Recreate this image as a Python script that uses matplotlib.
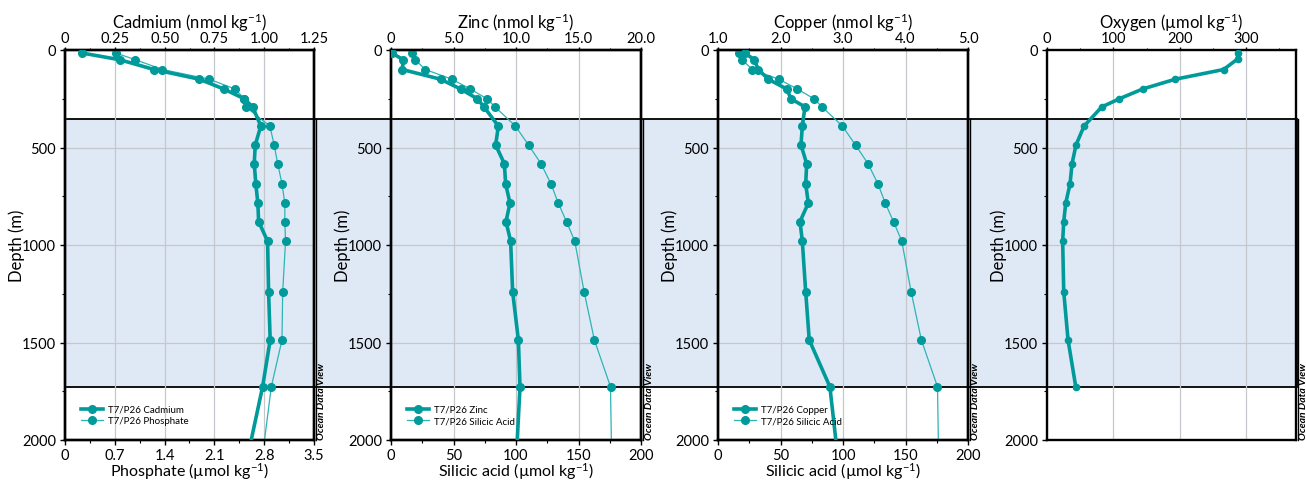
import matplotlib
matplotlib.use('Agg')
import matplotlib.pyplot as plt
from matplotlib.patches import Rectangle
from matplotlib.lines import Line2D
from matplotlib.ticker import MultipleLocator

plt.rcParams['font.family'] = ['Lato', 'DejaVu Sans']
plt.rcParams['mathtext.default'] = 'regular'

# station T7/P26 profiles (depth in m)
depth = [15, 50, 100, 150, 200, 250, 292, 390, 487, 583, 687, 785, 880, 980, 1240, 1487, 1727, 2500]
cadmium = [0.083, 0.275, 0.447, 0.675, 0.797, 0.90, 0.942, 0.983, 0.955, 0.95, 0.958, 0.968,
           0.972, 1.017, 1.022, 1.03, 0.992, 0.83]
phosphate = [0.71, 0.99, 1.37, 2.03, 2.39, 2.52, 2.54, 2.88, 2.94, 2.99, 3.05, 3.09,
             3.09, 3.10, 3.06, 3.05, 2.90, 2.63]
zinc = [0.05, 0.99, 0.9, 3.97, 5.57, 6.9, 7.44, 8.59, 8.37, 9.07, 9.17, 9.52,
        9.2, 9.57, 9.73, 10.19, 10.32, 9.7]
silicic = [16.5, 19.3, 27.5, 48.7, 63.5, 76.7, 83.3, 99.5, 110, 120, 128, 133.8,
           140.4, 147, 154.5, 162.7, 175.6, 177.5]
copper = [1.43, 1.58, 1.645, 1.805, 2.10, 2.168, 2.392, 2.349, 2.328, 2.419, 2.403, 2.445,
          2.312, 2.349, 2.403, 2.46, 2.79, 3.06]
oxygen_depth = [15, 46, 100, 150, 200, 250, 292, 390, 487, 583, 687, 785, 880, 980, 1240, 1487, 1727]
oxygen = [287, 287, 266, 193, 144, 109, 82.5, 55.8, 43.7, 37.7, 34.7, 28.2,
          25.2, 23.6, 25.2, 31.7, 43.3]

depth_ticks = [0, 500, 1000, 1500, 2000]
band_depths = (355, 1728)

cd_ticks = [0, 0.25, 0.5, 0.75, 1.0, 1.25]
cd_labels = ['0', '0.25', '0.50', '0.75', '1.00', '1.25']
po4_ticks = [0, 0.7, 1.4, 2.1, 2.8, 3.5]
po4_labels = ['0', '0.7', '1.4', '2.1', '2.8', '3.5']
zn_ticks = [0, 5, 10, 15, 20]
zn_labels = ['0', '5.0', '10.0', '15.0', '20.0']
si_ticks = [0, 50, 100, 150, 200]
si_labels = ['0', '50', '100', '150', '200']
cu_ticks = [1, 2, 3, 4, 5]
cu_labels = ['1.0', '2.0', '3.0', '4.0', '5.0']
o2_ticks = [0, 100, 200, 300]
o2_labels = ['0', '100', '200', '300']

TEAL = '#009a9a'
THIN = '#2db4b4'
BAND = '#dfe9f5'
GRID = '#c4c8cc'

W, H = 1306, 481
fig = plt.figure(figsize=(W / 100, H / 100), dpi=100)
AX_TOP, AX_BOT = 51, 441
bottom = 1 - AX_BOT / H
height = (AX_BOT - AX_TOP) / H

panels = [
    dict(left=65, right=314, metal=cadmium, nut=phosphate,
         top=('Cadmium (nmol kg$^{-1}$)', (0, 1.25), cd_ticks, cd_labels, 0.125),
         bot=('Phosphate (µmol kg$^{-1}$)', (0, 3.5), po4_ticks, po4_labels, 0.35),
         legend=['T7/P26 Cadmium', 'T7/P26 Phosphate']),
    dict(left=391, right=641, metal=zinc, nut=silicic,
         top=('Zinc (nmol kg$^{-1}$)', (0, 20), zn_ticks, zn_labels, 2.5),
         bot=('Silicic acid (µmol kg$^{-1}$)', (0, 200), si_ticks, si_labels, 25),
         legend=['T7/P26 Zinc', 'T7/P26 Silicic Acid']),
    dict(left=718, right=968, metal=copper, nut=silicic,
         top=('Copper (nmol kg$^{-1}$)', (1, 5), cu_ticks, cu_labels, 0.5),
         bot=('Silicic acid (µmol kg$^{-1}$)', (0, 200), si_ticks, si_labels, 25),
         legend=['T7/P26 Copper', 'T7/P26 Silicic Acid']),
    dict(left=1047, right=1296, metal=None, nut=None,
         top=('Oxygen (µmol kg$^{-1}$)', (0, 375), o2_ticks, o2_labels, 50),
         bot=None, legend=None),
]

# shaded band spanning all panels, kept behind the (transparent) axes
y_hi = bottom + (1 - band_depths[0] / 2000) * height
y_lo = bottom + (1 - band_depths[1] / 2000) * height
fig.patches.append(Rectangle((65 / W, y_lo), (1297 - 65) / W, y_hi - y_lo,
                             transform=fig.transFigure, facecolor=BAND,
                             edgecolor='black', linewidth=1.3, zorder=-10))


def style_axis(ax):
    ax.tick_params(which='major', length=3.5, width=1, labelsize=10.5, pad=3)
    ax.tick_params(which='minor', length=2, width=0.8)


def top_ticks(ax):
    ax.tick_params(axis='x', which='major', length=2.5, pad=1)
    ax.tick_params(axis='x', which='minor', length=1.8)


for p in panels:
    ax = fig.add_axes([p['left'] / W, bottom, (p['right'] - p['left']) / W, height])
    ax.set_facecolor('none')
    ax.set_ylim(2000, 0)
    ax.set_yticks(depth_ticks)
    ax.yaxis.set_minor_locator(MultipleLocator(250))
    ax.set_ylabel('Depth (m)', fontsize=12, labelpad=-2)
    for s in ax.spines.values():
        s.set_linewidth(1.7)
    style_axis(ax)
    ax.grid(True, axis='y', color=GRID, linewidth=0.9)

    label, lim, ticks, labels, minor = p['top']
    if p['bot'] is None:
        ax.xaxis.tick_top()
        ax.xaxis.set_label_position('top')
        ax.set_xlim(*lim)
        ax.set_xticks(ticks, labels)
        ax.xaxis.set_minor_locator(MultipleLocator(minor))
        top_ticks(ax)
        ax.set_xlabel(label, fontsize=12, labelpad=2)
        ax.grid(True, axis='x', color=GRID, linewidth=0.9)
        ax.plot(oxygen, oxygen_depth, color=TEAL, lw=2.6, marker='o', ms=4.5, zorder=3)
    else:
        blabel, blim, bticks, blabels, bminor = p['bot']
        ax.set_xlim(*blim)
        ax.set_xticks(bticks, blabels)
        ax.xaxis.set_minor_locator(MultipleLocator(bminor))
        ax.tick_params(axis='x', which='major', pad=2)
        ax.set_xlabel(blabel, fontsize=11.5, labelpad=-1)
        ax.grid(True, axis='x', color=GRID, linewidth=0.9)
        h2, = ax.plot(p['nut'], depth, color=THIN, lw=0.9, marker='o', ms=5.5,
                      mfc=TEAL, mec=TEAL, zorder=3)

        axt = ax.twiny()
        axt.set_facecolor('none')
        axt.set_xlim(*lim)
        axt.set_xticks(ticks, labels)
        axt.xaxis.set_minor_locator(MultipleLocator(minor))
        style_axis(axt)
        top_ticks(axt)
        axt.set_xlabel(label, fontsize=12, labelpad=2)
        for s in axt.spines.values():
            s.set_linewidth(1.7)
        h1, = axt.plot(p['metal'], depth, color=TEAL, lw=2.6, marker='o', ms=5.5, zorder=3)
        axt.legend([h1, h2], p['legend'], loc='lower left', bbox_to_anchor=(0.035, 0.02),
                   frameon=False, fontsize=7, handlelength=2.3, labelspacing=0.25,
                   borderpad=0.2, handletextpad=0.5)

    # frame line on the right side of each panel and ODV stamp
    xr = (p['right'] + 2) / W
    fig.add_artist(Line2D([xr, xr], [bottom, y_hi], transform=fig.transFigure,
                          color='black', lw=1.0))
    fig.text((p['right'] + 8) / W, (H - AX_BOT + 1) / H, 'Ocean Data View', rotation=90,
             ha='center', va='bottom', fontsize=7.5, fontweight='bold', fontstyle='italic')

fig.savefig('out.png', dpi=100)
